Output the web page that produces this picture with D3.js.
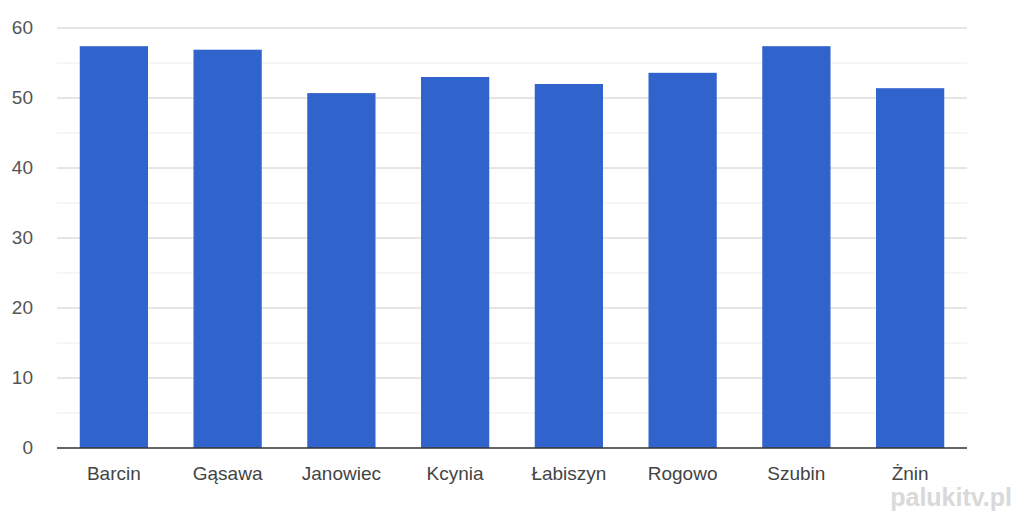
<!DOCTYPE html>
<html><head><meta charset="utf-8">
<script src="https://cdn.jsdelivr.net/npm/d3@7"></script>
<style>body{margin:0;background:#fff}</style>
</head><body>
<svg id="chart" width="1024" height="520"></svg>
<script>
const categories = ["Barcin", "Gąsawa", "Janowiec", "Kcynia", "Łabiszyn", "Rogowo", "Szubin", "Żnin"];
const values = [57.4, 56.9, 50.7, 53.0, 52.0, 53.6, 57.4, 51.4];
const yTicks = [0, 10, 20, 30, 40, 50, 60];
const minorTicks = [5, 15, 25, 35, 45, 55];

const svg = d3.select("#chart");
const margin = { top: 28, right: 57, bottom: 72, left: 57 };
const width = 1024, height = 520;

const x = d3.scaleBand().domain(categories)
  .range([margin.left, width - margin.right]).paddingInner(0.4).paddingOuter(0.2);
const y = d3.scaleLinear().domain([0, 60]).range([height - margin.bottom, margin.top]);

// gridlines
svg.selectAll(".minor").data(minorTicks).join("line")
  .attr("x1", margin.left).attr("x2", width - margin.right)
  .attr("y1", d => y(d)).attr("y2", d => y(d))
  .attr("stroke", "#ededed").attr("stroke-width", 1);
svg.selectAll(".major").data(yTicks.slice(1)).join("line")
  .attr("x1", margin.left).attr("x2", width - margin.right)
  .attr("y1", d => y(d)).attr("y2", d => y(d))
  .attr("stroke", "#cccccc").attr("stroke-width", 1);

// bars
svg.selectAll(".bar").data(values).join("rect")
  .attr("x", (d, i) => x(categories[i]))
  .attr("y", d => y(d))
  .attr("width", x.bandwidth())
  .attr("height", d => y(0) - y(d))
  .attr("fill", "#3063cb");

// baseline
svg.append("line")
  .attr("x1", margin.left).attr("x2", width - margin.right)
  .attr("y1", y(0)).attr("y2", y(0))
  .attr("stroke", "#333").attr("stroke-width", 1.5);

// y labels
svg.selectAll(".ylab").data(yTicks).join("text")
  .attr("x", 33).attr("y", d => y(d) + 6)
  .attr("text-anchor", "end")
  .style("font-family", "Arial, 'Liberation Sans', sans-serif").style("font-size", "19px")
  .attr("fill", "#555").text(d => d);

// x labels
svg.selectAll(".xlab").data(categories).join("text")
  .attr("x", d => x(d) + x.bandwidth() / 2).attr("y", y(0) + 32)
  .attr("text-anchor", "middle")
  .style("font-family", "Arial, 'Liberation Sans', sans-serif").style("font-size", "19px")
  .attr("fill", "#444").text(d => d);

// watermark
svg.append("text").attr("x", 1012).attr("y", 506).attr("text-anchor", "end")
  .style("font-family", "Arial, 'Liberation Sans', sans-serif").style("font-size", "25px")
  .style("font-weight", "bold")
  .attr("fill", "#d0d0d0").attr("opacity", 0.8).text("palukitv.pl");
</script>
</body></html>
